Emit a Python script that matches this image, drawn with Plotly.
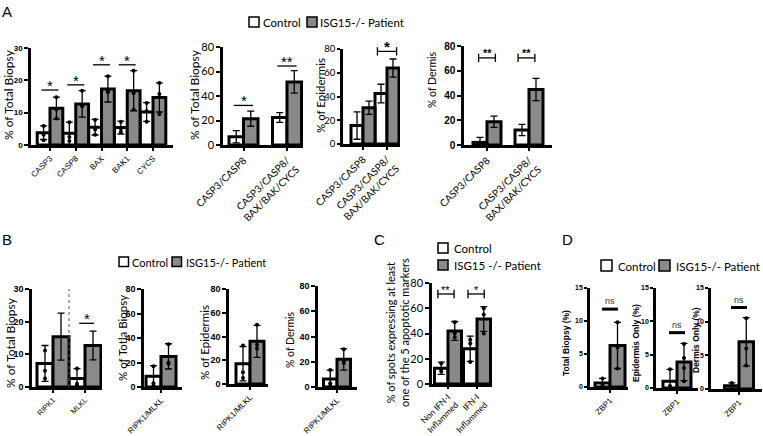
import plotly.graph_objects as go

# ---------------- data ----------------
a1_cats = ["CASP3", "CASP8", "BAX", "BAK1", "CYCS"]
a1_ctrl = [3.8, 3.6, 5.5, 5.4, 10.2]
a1_ctrl_sd = [2.1, 3.5, 2.4, 2.0, 2.9]
a1_pat = [11.4, 12.7, 17.3, 16.8, 14.7]
a1_pat_sd = [3.4, 4.1, 4.0, 6.2, 4.5]
a1_ctrl_pts = [[5.9, 3.2, 1.5], [7.0, 2.5, 1.2], [7.8, 4.8, 3.2], [7.2, 5.0, 4.0], [13.0, 10.5, 7.2]]
a1_pat_pts = [[14.8, 11.0, 8.2], [16.8, 12.4, 12.0], [21.3, 16.8, 16.3], [23.0, 16.0, 11.0], [19.2, 15.8, 9.5]]
a1_sig = ["*", "*", "*", "*", ""]

a2_cats = ["CASP3/CASP8", "CASP3/CASP8/<br>BAX/BAK/CYCS"]
a2_ctrl = [6.8, 22.5]
a2_ctrl_sd = [5.0, 4.0]
a2_pat = [21.5, 51.5]
a2_pat_sd = [6.2, 9.2]
a2_sig = ["*", "**"]

a3_cats = ["CASP3/CASP8", "CASP3/CASP8/<br>BAX/BAK/CYCS"]
a3_ctrl = [15.5, 42.5]
a3_ctrl_sd = [11.5, 7.8]
a3_pat = [30.5, 64.0]
a3_pat_sd = [5.6, 7.6]
a3_sig = ["", "*"]

a4_cats = ["CASP3/CASP8", "CASP3/CASP8/<br>BAX/BAK/CYCS"]
a4_ctrl = [2.1, 12.1]
a4_ctrl_sd = [4.1, 4.6]
a4_pat = [18.8, 44.9]
a4_pat_sd = [4.6, 9.0]
a4_sig = ["**", "**"]

b1_cats = ["RIPK1", "MLKL"]
b1_ctrl = [7.2, 2.6]
b1_ctrl_sd = [5.5, 3.0]
b1_pat = [15.4, 12.7]
b1_pat_sd = [7.2, 4.4]
b1_ctrl_pts = [[11.2, 5.0, 2.6], [5.7, 1.0, 0.4]]
b1_pat_pts = [[], []]
b1_sig = ["", "*"]

b2_cats = ["RIPK1/MLKL"]
b2_ctrl = [8.7]
b2_ctrl_sd = [8.7]
b2_pat = [25.0]
b2_pat_sd = [10.3]
b2_ctrl_pts = [[17.0, 3.0, 1.0]]
b2_pat_pts = [[35.0, 20.0, 19.0]]

b3_cats = ["RIPK1/MLKL"]
b3_ctrl = [17.1]
b3_ctrl_sd = [14.5]
b3_pat = [35.9]
b3_pat_sd = [13.5]
b3_ctrl_pts = [[32.5, 10.0, 5.0]]
b3_pat_pts = [[50.0, 33.0, 30.0]]

b4_cats = ["RIPK1/MLKL"]
b4_ctrl = [6.3]
b4_ctrl_sd = [7.0]
b4_pat = [21.9]
b4_pat_sd = [8.5]
b4_ctrl_pts = [[13.5, 3.0, 1.0]]
b4_pat_pts = [[30.0, 20.5, 19.0]]

c_cats = ["Non IFN-I<br>Inflammed", "IFN-I<br>Inflammed"]
c_ctrl = [12.5, 28.0]
c_ctrl_sd = [4.8, 10.0]
c_pat = [42.0, 51.5]
c_pat_sd = [7.5, 9.8]
c_ctrl_pts = [[16.5, 10.0, 11.5], [35.0, 32.0, 17.5]]
c_pat_pts = [[49.0, 40.0, 37.0], [60.0, 55.0, 40.0]]
c_sig = ["**", "*"]

d1_cats = ["ZBP1"]
d1_ctrl = [0.6]
d1_ctrl_sd = [0.7]
d1_pat = [6.3]
d1_pat_sd = [3.5]
d1_ctrl_pts = [[1.3, 0.3]]
d1_pat_pts = [[9.8, 6.0, 2.8]]

d2_cats = ["ZBP1"]
d2_ctrl = [1.0]
d2_ctrl_sd = [1.8]
d2_pat = [3.9]
d2_pat_sd = [2.8]
d2_ctrl_pts = [[2.8, 0.3]]
d2_pat_pts = [[6.6, 4.5, 3.0, 1.0]]

d3_cats = ["ZBP1"]
d3_ctrl = [0.5]
d3_ctrl_sd = [0.4]
d3_pat = [7.0]
d3_pat_sd = [3.6]
d3_ctrl_pts = [[0.9]]
d3_pat_pts = [[10.5, 6.0, 3.5]]
d_sig = ["ns"]

# ---------------- layout helpers ----------------
W, H = 763, 436
ARIAL = "Liberation Sans, Arial, sans-serif"
SOFT = "Lato, Liberation Sans, sans-serif"
GRAY = "#8a8a8a"

fig = go.Figure()
lay = {}
annotations = []
shapes = []


def px(xp, yp):
    return xp / W, 1 - yp / H


def panel(idx, cats, ctrl, ctrl_sd, pat, pat_sd, geo, ctrl_pts=None, pat_pts=None):
    sfx = "" if idx == 1 else str(idx)
    xr, yr = "x" + sfx, "y" + sfx
    sp, c0 = geo["sp"], geo["c0"]
    half = geo["bw"] / sp / 2
    xs = list(range(len(cats)))
    xc = [i - half for i in xs]
    xp = [i + half for i in xs]
    lw = geo.get("lw", 3)
    ew = dict(type="data", thickness=1.3, width=3.5, color="black")
    fig.add_trace(go.Bar(x=xc, y=ctrl, width=[2 * half] * len(xs), xaxis=xr, yaxis=yr,
                         marker=dict(color="white", line=dict(color="black", width=lw)),
                         error_y=dict(array=ctrl_sd, **ew), showlegend=False, hoverinfo="skip"))
    fig.add_trace(go.Bar(x=xp, y=pat, width=[2 * half] * len(xs), xaxis=xr, yaxis=yr,
                         marker=dict(color=GRAY, line=dict(color="black", width=lw)),
                         error_y=dict(array=pat_sd, **ew), showlegend=False, hoverinfo="skip"))
    for pts, xpos in ((ctrl_pts, xc), (pat_pts, xp)):
        if pts:
            dx, dy = [], []
            for j, vals in enumerate(pts):
                for v in vals:
                    dx.append(xpos[j])
                    dy.append(v)
            fig.add_trace(go.Scatter(x=dx, y=dy, mode="markers", xaxis=xr, yaxis=yr,
                                     marker=dict(color="black", size=4), showlegend=False,
                                     hoverinfo="skip", cliponaxis=False))
    lay["xaxis" + sfx] = dict(
        domain=[geo["x0"] / W, geo["x1"] / W],
        range=[(geo["x0"] - c0) / sp, (geo["x1"] - c0) / sp],
        anchor=yr, tickvals=xs, ticktext=cats, tickangle=-45, automargin=False,
        showline=True, linecolor="black", linewidth=2.5, ticks="outside",
        ticklen=geo.get("xtl", 3), tickwidth=1.5, tickcolor="black", showgrid=False, zeroline=False,
        tickfont=geo["xfont"], fixedrange=True)
    lay["yaxis" + sfx] = dict(
        domain=[1 - geo["y0"] / H, 1 - geo["yt"] / H], automargin=False,
        range=[0, geo["ymax"]], anchor=xr, tickvals=geo["yticks"],
        showline=True, linecolor="black", linewidth=2.5, ticks="outside",
        ticklen=geo.get("ytl", 4), tickwidth=2, tickcolor="black", showgrid=False, zeroline=False,
        tickfont=geo["yfont"], fixedrange=True)
    return xr, yr, half


def sig(xr, yr, xs, ylevel, text, halfspan, caps=False, font=None, lw=1.3, tshift=0):
    for x, y, t in zip(xs, ylevel, text):
        if not t:
            continue
        fig.add_trace(go.Scatter(x=[x - halfspan, x + halfspan], y=[y, y],
                                 mode="lines+markers" if caps else "lines",
                                 line=dict(color="black", width=lw),
                                 marker=dict(symbol="line-ns-open", size=6,
                                             line=dict(color="black", width=1.3)),
                                 xaxis=xr, yaxis=yr, showlegend=False, hoverinfo="skip",
                                 cliponaxis=False))
        annotations.append(dict(x=x, y=y, xref=xr, yref=yr, text=t, showarrow=False,
                                yanchor="bottom", yshift=tshift, font=font))


def ytitle(text, xp, yp, size, family=SOFT, bold=False):
    x, y = px(xp, yp)
    t = "<b>%s</b>" % text if bold else text
    annotations.append(dict(x=x, y=y, xref="paper", yref="paper", text=t, textangle=-90,
                            showarrow=False, xanchor="center", yanchor="middle",
                            font=dict(family=family, size=size, color="black")))


def label(text, xp, yp, size, family=SOFT, anchor="left"):
    x, y = px(xp, yp)
    annotations.append(dict(x=x, y=y, xref="paper", yref="paper", text=text,
                            showarrow=False, xanchor=anchor, yanchor="middle",
                            font=dict(family=family, size=size, color="black")))


def legend_box(xp, yp, size, fill):
    x0, y0 = px(xp, yp + size)
    x1, y1 = px(xp + size, yp)
    shapes.append(dict(type="rect", xref="paper", yref="paper", x0=x0, x1=x1, y0=y0, y1=y1,
                       fillcolor=fill, line=dict(color="black", width=1.5)))


F_ar_b8 = dict(family=ARIAL, size=8, color="black", weight="bold")
F_ar_8 = dict(family=ARIAL, size=8, color="black")
F_soft10 = dict(family=SOFT, size=10, color="black")
F_soft11 = dict(family=SOFT, size=11, color="black")
F_ar_b9 = dict(family=ARIAL, size=9, color="black", weight="bold")

# ---------------- Panel A ----------------
g = dict(x0=31, x1=173, yt=48, y0=145, ymax=30, yticks=[0, 10, 20, 30], c0=50, sp=25.75, bw=12.8,
         xfont=F_ar_8, yfont=F_ar_b8)
xr, yr, h = panel(1, a1_cats, a1_ctrl, a1_ctrl_sd, a1_pat, a1_pat_sd, g, a1_ctrl_pts, a1_pat_pts)
sig(xr, yr, [0, 1, 2, 3], [17.0, 18.6, 24.8, 24.8], a1_sig[:4], 0.33,
    font=dict(family=ARIAL, size=15, color="black"), tshift=-6)

g = dict(x0=223, x1=303, yt=47, y0=145, ymax=80, yticks=[0, 20, 40, 60, 80], c0=243.5, sp=43.5, bw=14.5,
         xfont=F_soft10, yfont=F_soft11)
xr, yr, h = panel(2, a2_cats, a2_ctrl, a2_ctrl_sd, a2_pat, a2_pat_sd, g)
sig(xr, yr, [0, 1], [32.3, 64.5], a2_sig, 0.22, font=dict(family=ARIAL, size=15, color="black"), tshift=-6)

g = dict(x0=343, x1=400, yt=49, y0=144, ymax=80, yticks=[0, 20, 40, 60, 80], c0=363, sp=24, bw=12,
         xfont=F_soft10, yfont=dict(family=SOFT, size=9.5, color="black"), ytl=3)
xr, yr, h = panel(3, a3_cats, a3_ctrl, a3_ctrl_sd, a3_pat, a3_pat_sd, g)
sig(xr, yr, [0, 1], [78.0, 78.0], a3_sig, 0.4, caps=True,
    font=dict(family=ARIAL, size=15, color="black", weight="bold"), tshift=-6)

g = dict(x0=464, x1=552, yt=46, y0=145, ymax=80, yticks=[0, 20, 40, 60, 80], c0=487, sp=42, bw=14,
         xfont=F_soft10, yfont=dict(family=ARIAL, size=10, color="black", weight="bold"))
xr, yr, h = panel(4, a4_cats, a4_ctrl, a4_ctrl_sd, a4_pat, a4_pat_sd, g)
sig(xr, yr, [0.0, 0.94], [70.4, 70.4], a4_sig, 0.2, caps=True,
    font=dict(family=ARIAL, size=11, color="black", weight="bold"), tshift=-3)

ytitle("% of Total Biopsy", 9, 95, 12)
ytitle("% of Total Biopsy", 195, 95, 12)
ytitle("% of Epidermis", 320, 96, 11.5)
ytitle("% of Dermis", 432, 80, 10.5)
legend_box(249, 17, 10, "white")
label("Control", 261, 22.5, 11.5)
legend_box(307, 17, 10, GRAY)
label("ISG15-/- Patient", 318, 22.5, 11.5)
label("A", 0, 11, 15, family=ARIAL)

# ---------------- Panel B ----------------
g = dict(x0=32, x1=102, yt=289, y0=387, ymax=30, yticks=[0, 10, 20, 30], c0=53, sp=32, bw=16,
         xfont=dict(family=ARIAL, size=7.5, color="black"), yfont=F_ar_b9)
xr, yr, h = panel(5, b1_cats, b1_ctrl, b1_ctrl_sd, b1_pat, b1_pat_sd, g, b1_ctrl_pts, b1_pat_pts)
shapes.append(dict(type="line", xref=xr, yref=yr, x0=0.5, x1=0.5, y0=0, y1=30,
                   line=dict(color="#555555", width=1, dash="dot")))
sig(xr, yr, [0, 1.05], [19.5, 19.5], b1_sig, 0.23, font=dict(family=ARIAL, size=15, color="black"), tshift=-6)

g = dict(x0=144, x1=182, yt=289, y0=387, ymax=80, yticks=[0, 20, 40, 60, 80], c0=161, sp=15, bw=15,
         xfont=F_ar_8, yfont=F_ar_b9)
panel(6, b2_cats, b2_ctrl, b2_ctrl_sd, b2_pat, b2_pat_sd, g, b2_ctrl_pts, b2_pat_pts)

g = dict(x0=229, x1=268, yt=289, y0=384, ymax=80, yticks=[0, 20, 40, 60, 80], c0=250, sp=14, bw=14,
         xfont=F_ar_8, yfont=F_ar_b9)
panel(7, b3_cats, b3_ctrl, b3_ctrl_sd, b3_pat, b3_pat_sd, g, b3_ctrl_pts, b3_pat_pts)

g = dict(x0=318, x1=357, yt=286, y0=387, ymax=80, yticks=[0, 20, 40, 60, 80], c0=337, sp=13.5, bw=13.5,
         xfont=F_ar_8, yfont=F_ar_b9)
panel(8, b4_cats, b4_ctrl, b4_ctrl_sd, b4_pat, b4_pat_sd, g, b4_ctrl_pts, b4_pat_pts)

ytitle("% of Total Biopsy", 10, 343, 12)
ytitle("% of Totla Biopsy", 122, 338, 11.5)
ytitle("% of Epidermis", 204, 343, 11.5)
ytitle("% of Dermis", 290, 340, 10.5)
legend_box(119, 257, 9.5, "white")
label("Control", 130, 262, 11)
legend_box(172, 257, 9.5, GRAY)
label("ISG15-/- Patient", 184, 262, 11)
label("B", 0, 239, 15, family=ARIAL)

# ---------------- Panel C ----------------
g = dict(x0=432, x1=492, yt=283, y0=384, ymax=80, yticks=[0, 20, 40, 60, 80], c0=448, sp=29, bw=13.5,
         xfont=dict(family=SOFT, size=8.5, color="black"), yfont=F_soft11, xtl=2)
xr, yr, h = panel(9, c_cats, c_ctrl, c_ctrl_sd, c_pat, c_pat_sd, g, c_ctrl_pts, c_pat_pts)
sig(xr, yr, [-0.07, 0.97], [71.3, 71.3], c_sig, 0.28, caps=True,
    font=dict(family=ARIAL, size=11, color="black"), tshift=-4)
ytitle("% of spots expressing at least<br>one of the 5 apoptotic markers", 397, 333, 11)
legend_box(438, 243, 10, "white")
label("Control", 452, 248.5, 11.5)
legend_box(438, 260, 10, GRAY)
label("ISG15 -/- Patient", 452, 265.5, 11.5)
label("C", 372, 239, 15, family=ARIAL)

# ---------------- Panel D ----------------
ns_font = dict(family=ARIAL, size=9, color="#333333")
d_yfont = dict(family=ARIAL, size=7, color="black", weight="bold")
g = dict(x0=590, x1=628, yt=288, y0=387, ymax=15, yticks=[0, 5, 10, 15], c0=610, sp=15, bw=15,
         xfont=F_ar_8, yfont=d_yfont, ytl=3)
xr, yr, h = panel(10, d1_cats, d1_ctrl, d1_ctrl_sd, d1_pat, d1_pat_sd, g, d1_ctrl_pts, d1_pat_pts)
sig(xr, yr, [0], [11.8], d_sig, 0.53, font=ns_font, lw=3, tshift=1)

g = dict(x0=656, x1=698, yt=288, y0=388, ymax=15, yticks=[0, 5, 10, 15], c0=677, sp=14, bw=14,
         xfont=F_ar_8, yfont=d_yfont, ytl=3)
xr, yr, h = panel(11, d2_cats, d2_ctrl, d2_ctrl_sd, d2_pat, d2_pat_sd, g, d2_ctrl_pts, d2_pat_pts)
sig(xr, yr, [0.0], [8.3], d_sig, 0.57, font=ns_font, lw=3, tshift=1)

g = dict(x0=711, x1=762, yt=288, y0=389, ymax=15, yticks=[0, 5, 10, 15], c0=739, sp=14.5, bw=14.5,
         xfont=F_ar_8, yfont=d_yfont, ytl=3)
xr, yr, h = panel(12, d3_cats, d3_ctrl, d3_ctrl_sd, d3_pat, d3_pat_sd, g, d3_ctrl_pts, d3_pat_pts)
sig(xr, yr, [0], [12.1], d_sig, 0.55, font=ns_font, lw=3, tshift=1)

ytitle("Total Biopsy (%)", 566, 343, 8.5, family=ARIAL, bold=True)
ytitle("Epidermis Only (%)", 636, 343, 8.5, family=ARIAL, bold=True)
ytitle("Dermis Only (%)", 696, 340, 8.5, family=ARIAL, bold=True)
legend_box(601, 260, 11, "white")
label("Control", 616, 266, 11.5)
legend_box(659, 260, 11, GRAY)
label("ISG15-/- Patient", 674, 266, 11.5)
label("D", 560, 239, 15, family=ARIAL)

fig.update_layout(
    template="none",
    width=W, height=H, autosize=False,
    margin=dict(l=0, r=0, t=0, b=0, autoexpand=False),
    paper_bgcolor="white", plot_bgcolor="rgba(0,0,0,0)",
    barmode="overlay", showlegend=False,
    annotations=annotations, shapes=shapes,
    font=dict(family=ARIAL, color="black"),
    **lay,
)
fig.write_html("out.html")
